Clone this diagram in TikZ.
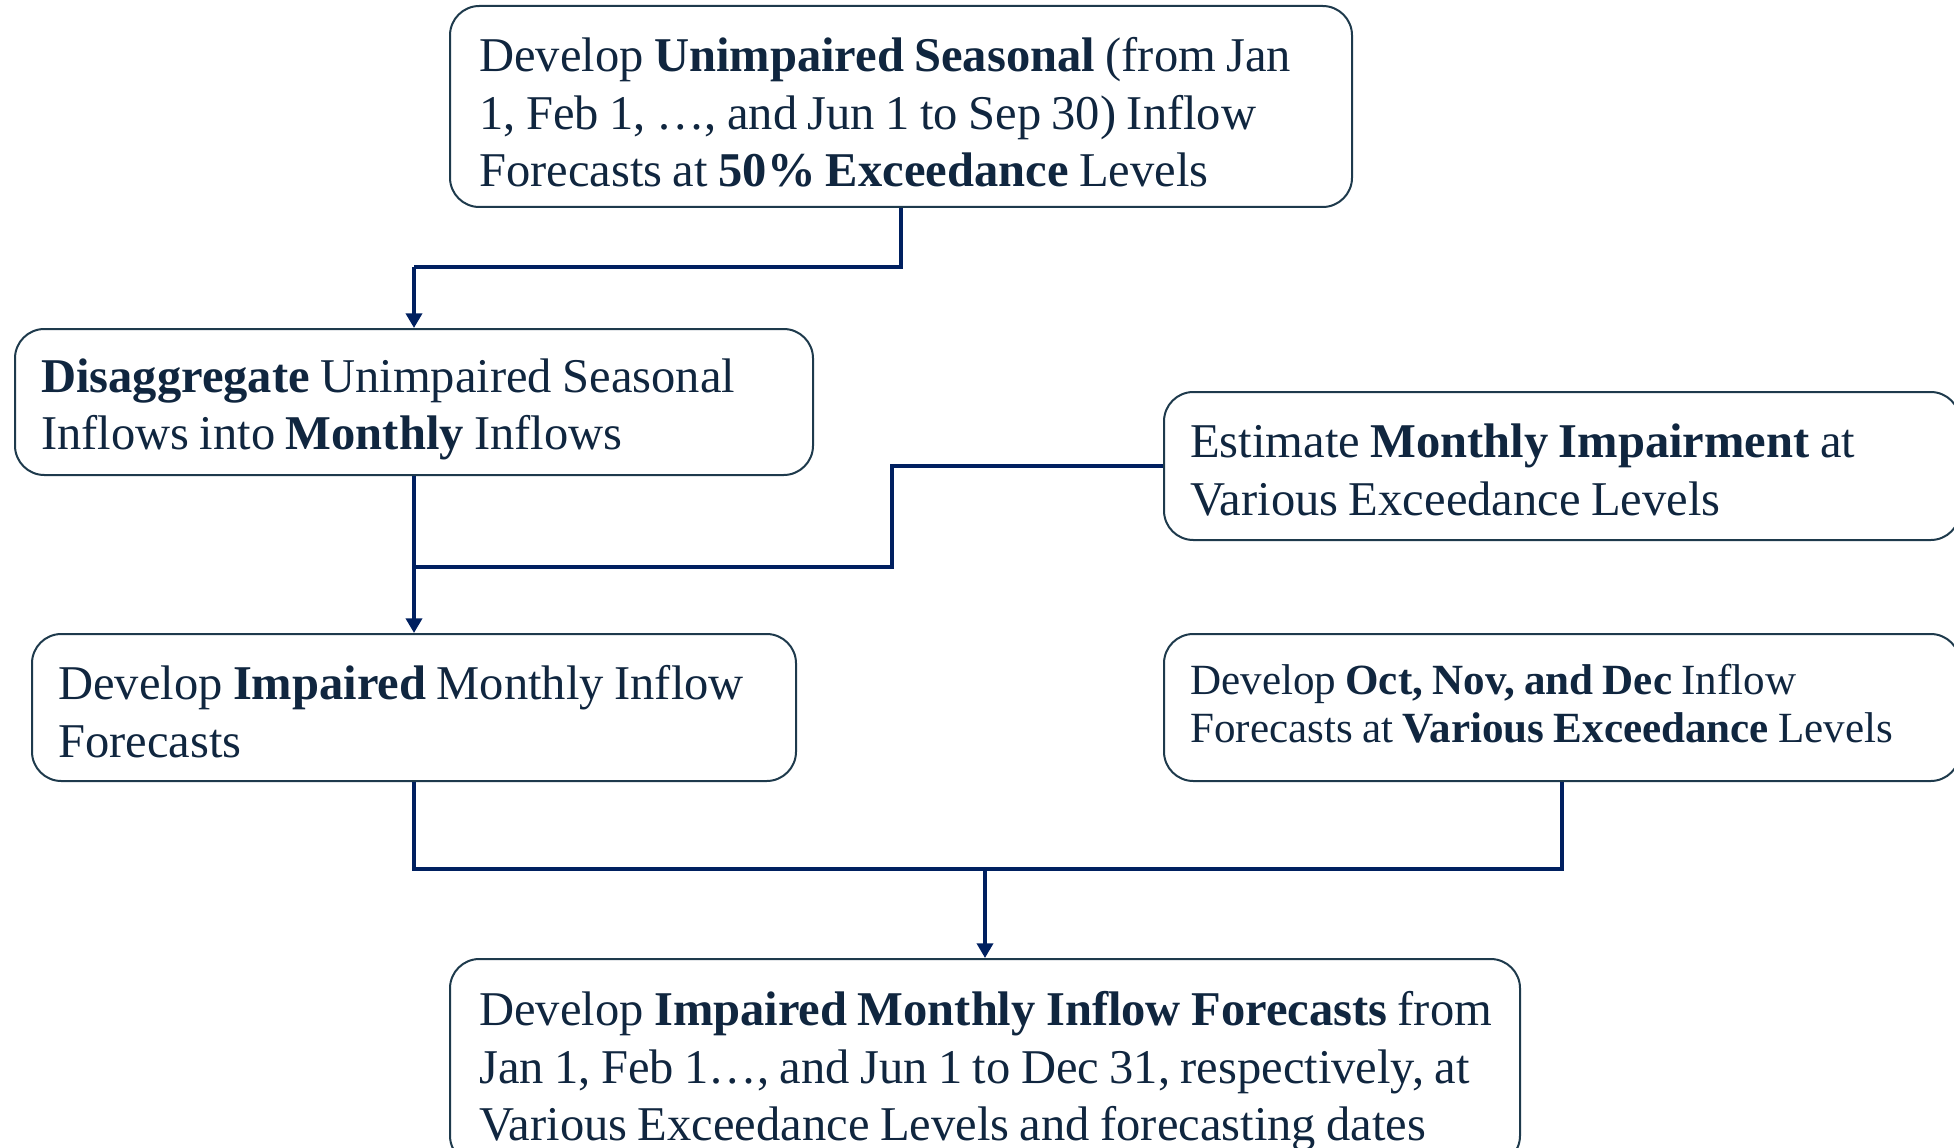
\documentclass[tikz,border=0pt]{standalone}
\usepackage{fontspec}
\setmainfont{Liberation Serif}
\usetikzlibrary{arrows.meta}
\definecolor{txtc}{HTML}{10263F}
\definecolor{boxc}{HTML}{1E3A4C}
\definecolor{connc}{HTML}{002060}
\tikzset{
  fbox/.style={draw=boxc, line width=1.5pt, rounded corners=22pt, inner sep=0pt},
  ftext/.style={text=txtc, align=left, inner sep=0pt, anchor=west,
    font={\fontsize{36.4}{43}\selectfont\spaceskip=0.215em plus 0.05em minus 0.02em\relax}},
  stext/.style={font={\fontsize{32.3}{36.5}\selectfont\spaceskip=0.215em plus 0.05em minus 0.02em\relax}},
  conn/.style={draw=connc, line width=3.4pt},
  tip/.style={-{Triangle[width=12pt,length=11pt]}},
}
\begin{document}
\begin{tikzpicture}[x=0.75pt,y=-0.75pt]
\useasboundingbox (0,0) rectangle (1954,1148);
% boxes
\node[fbox, minimum width=676.5pt, minimum height=150.75pt] (top) at (901,106.5) {};
\node[fbox, minimum width=598.5pt, minimum height=109.5pt] (dis) at (414,402) {};
\node[fbox, minimum width=597pt, minimum height=111pt] (est) at (1562,466) {};
\node[fbox, minimum width=573pt, minimum height=110.25pt] (imp) at (414,707.5) {};
\node[fbox, minimum width=597pt, minimum height=110.25pt] (oct) at (1562,707.5) {};
\node[fbox, minimum width=802.5pt, minimum height=154.5pt] (bot) at (985,1062) {};
% texts
\node[ftext] (topt) at ([xshift=22.5pt,yshift=-4.5pt]top.west)
  {Develop \textbf{Unimpaired Seasonal} (from Jan\\1, Feb 1, …, and Jun 1 to Sep 30) Inflow\\Forecasts at \textbf{50\% Exceedance} Levels};
\node[ftext] (dist) at ([xshift=20.25pt,yshift=-5.6pt]dis.west)
  {\textbf{Disaggregate} Unimpaired Seasonal\\Inflows into \textbf{Monthly} Inflows};
\node[ftext] (estt) at ([xshift=20.25pt,yshift=-3pt]est.west)
  {Estimate \textbf{Monthly Impairment} at\\Various Exceedance Levels};
\node[ftext] (impt) at ([xshift=20.25pt,yshift=-3pt]imp.west)
  {Develop \textbf{Impaired} Monthly Inflow\\Forecasts};
\node[ftext, stext] (octt) at ([xshift=20.25pt,yshift=3pt]oct.west)
  {Develop \textbf{Oct, Nov, and Dec} Inflow\\Forecasts at \textbf{Various Exceedance} Levels};
\node[ftext] (bott) at ([xshift=22.5pt,yshift=-7.1pt]bot.west)
  {Develop \textbf{Impaired Monthly Inflow Forecasts} from\\Jan 1, Feb 1…, and Jun 1 to Dec 31, respectively, at\\Various Exceedance Levels and forecasting dates};
% connectors
\coordinate (j1) at (414,267);
\coordinate (j2) at (892,567);
\coordinate (j3) at (414,567);
\coordinate (j4) at (1562,869);
\coordinate (j5) at (985,869);
\draw[conn] (top.south) |- (j1);
\draw[conn, tip] (j1) -- (dis.north);
\draw[conn, tip] (dis.south) -- (imp.north);
\draw[conn] (est.west) -| (j2) -- (j3);
\draw[conn] (imp.south) |- (j4) -- (oct.south);
\draw[conn, line width=2.6pt, tip] (j5) -- (bot.north);
\end{tikzpicture}
\end{document}
